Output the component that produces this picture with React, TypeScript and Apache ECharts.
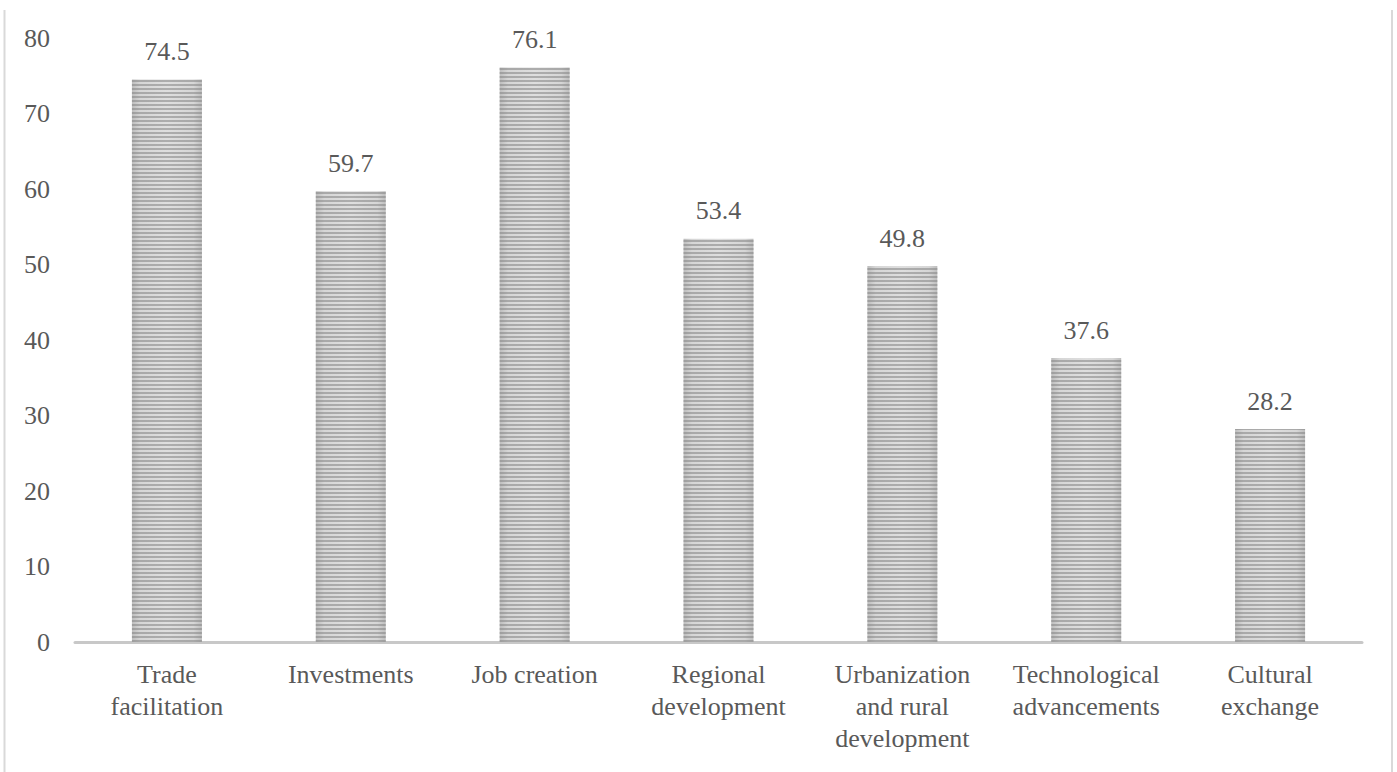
import React, { useEffect, useRef } from "react";
import * as echarts from "echarts";

const categories = [
  "Trade\nfacilitation",
  "Investments",
  "Job creation",
  "Regional\ndevelopment",
  "Urbanization\nand rural\ndevelopment",
  "Technological\nadvancements",
  "Cultural\nexchange",
];
const values = [74.5, 59.7, 76.1, 53.4, 49.8, 37.6, 28.2];
const yTicks = { min: 0, max: 80, interval: 10 };

const FONT = "Liberation Serif";
const TEXT = "#595959";

export default function App() {
  const ref = useRef<HTMLDivElement>(null);
  useEffect(() => {
    document.body.style.margin = "0";
    const chart = echarts.init(ref.current!, undefined, { renderer: "svg" });
    chart.setOption({
      animation: false,
      backgroundColor: "#ffffff",
      aria: { enabled: true, decal: { show: true } },
      grid: { left: 75, right: 35, top: 38, bottom: 130, containLabel: false },
      xAxis: {
        type: "category",
        data: categories,
        axisLine: { show: true, lineStyle: { color: "#c8c8c8", width: 3 } },
        axisTick: { show: false },
        axisLabel: {
          color: TEXT,
          fontFamily: FONT,
          fontSize: 26,
          lineHeight: 32,
          margin: 16,
          interval: 0,
        },
      },
      yAxis: {
        type: "value",
        min: yTicks.min,
        max: yTicks.max,
        interval: yTicks.interval,
        axisLine: { show: false },
        axisTick: { show: false },
        splitLine: { show: false },
        axisLabel: {
          color: TEXT,
          fontFamily: FONT,
          fontSize: 26,
          margin: 25,
        },
      },
      series: [
        {
          type: "bar",
          data: values,
          barWidth: 70,
          itemStyle: {
            color: new echarts.graphic.LinearGradient(0, 0, 1, 0, [
              { offset: 0, color: "#bdbdbd" },
              { offset: 0.12, color: "#d6d6d6" },
              { offset: 0.5, color: "#dedede" },
              { offset: 0.88, color: "#d6d6d6" },
              { offset: 1, color: "#bdbdbd" },
            ]),
            decal: {
              symbol: "rect",
              symbolSize: 1,
              dashArrayX: [1, 0],
              dashArrayY: [2, 2],
              rotation: 0,
              color: "rgba(130,130,130,0.55)",
            },
          },
          label: {
            show: true,
            position: "top",
            distance: 15,
            color: TEXT,
            fontFamily: FONT,
            fontSize: 26,
          },
        },
      ],
      graphic: [
        {
          type: "line",
          shape: { x1: 4.5, y1: 10, x2: 4.5, y2: 772 },
          style: { stroke: "#d9d9d9", lineWidth: 2 },
        },
        {
          type: "line",
          shape: { x1: 1392, y1: 10, x2: 1392, y2: 772 },
          style: { stroke: "#d9d9d9", lineWidth: 2 },
        },
      ],
    });
    return () => chart.dispose();
  }, []);
  return <div ref={ref} style={{ width: 1397, height: 772 }} />;
}
